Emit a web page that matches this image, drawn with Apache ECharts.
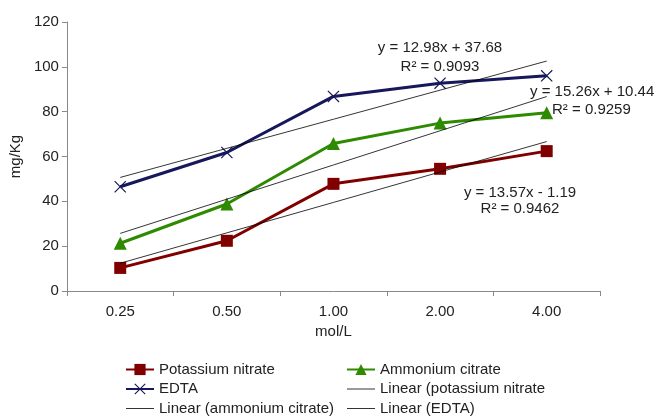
<!DOCTYPE html>
<html><head><meta charset="utf-8">
<script src="https://cdn.jsdelivr.net/npm/echarts@6/dist/echarts.min.js"></script>
<style>html,body{margin:0;padding:0;background:#fff}#c{width:657px;height:416px}</style>
</head><body><div id="c"></div>
<script>
var categories = ['0.25', '0.50', '1.00', '2.00', '4.00'];
var potassiumNitrate = [10.3, 22.4, 47.8, 54.5, 62.4];
var ammoniumCitrate = [21.3, 38.8, 65.8, 74.9, 79.5];
var edta = [46.5, 61.8, 86.8, 92.7, 96.0];
// trend line values (fitted lines)
var linearPotassium = [12.38, 25.95, 39.52, 53.09, 66.66];
var linearAmmonium = [25.70, 40.96, 56.22, 71.48, 86.74];
var linearEdta = [50.66, 63.64, 76.62, 89.60, 102.58];
var yTicks = [0, 20, 40, 60, 80, 100, 120];
var eqEdta = ['y = 12.98x + 37.68', 'R\u00b2 = 0.9093'];
var eqAmmonium = ['y = 15.26x + 10.44', 'R\u00b2 = 0.9259'];
var eqPotassium = ['y = 13.57x - 1.19', 'R\u00b2 = 0.9462'];

var FONT = '"Liberation Sans", Arial, sans-serif';
var TXT = '#222';
var xSym = 'path://M0,0.7 L0.7,0 L5,4.3 L9.3,0 L10,0.7 L5.7,5 L10,9.3 L9.3,10 L5,5.7 L0.7,10 L0,9.3 L4.3,5 Z';

var chart = echarts.init(document.getElementById('c'), null, {renderer: 'canvas'});
function trend(name, data) {
  return {name: name, type: 'line', data: data, symbol: 'none', showSymbol: false,
    lineStyle: {color: '#000', width: 0.8}, itemStyle: {color: '#000'}, z: 5, silent: true, animation: false};
}
function txt(x, y, s, align) {
  return {type: 'text', z: 10, style: {x: x, y: y, text: s, font: '15px ' + FONT, fill: TXT,
    textAlign: align || 'center', textVerticalAlign: 'middle'}};
}
function trendLegend(name) { return {name: name, itemStyle: {opacity: 0}, lineStyle: {width: 0.8, color: '#000'}}; }
var legendCommon = {orient: 'vertical', top: 362, height: 70, padding: 0, itemWidth: 28, itemHeight: 14, itemGap: 4.5,
  textStyle: {fontSize: 15, color: TXT, fontFamily: FONT, lineHeight: 14}};
chart.setOption({
  animation: false,
  textStyle: {fontFamily: FONT},
  grid: {left: 63, right: 57, top: 22, bottom: 125, containLabel: false},
  xAxis: {
    type: 'category', data: categories, boundaryGap: true,
    name: 'mol/L', nameLocation: 'middle', nameGap: 30,
    nameTextStyle: {fontSize: 15, color: TXT, fontFamily: FONT},
    axisLine: {lineStyle: {color: '#888', width: 1}},
    axisTick: {show: true, length: 5, alignWithLabel: false, lineStyle: {color: '#888'}},
    axisLabel: {fontSize: 15, color: TXT, margin: 13, fontFamily: FONT},
    splitLine: {show: false}
  },
  yAxis: {
    type: 'value', min: yTicks[0], max: yTicks[yTicks.length - 1], interval: 20,
    name: 'mg/Kg', nameLocation: 'middle', nameGap: 42, nameRotate: 90,
    nameTextStyle: {fontSize: 15, color: TXT, fontFamily: FONT},
    axisLine: {show: true, lineStyle: {color: '#888', width: 1}},
    axisTick: {show: true, length: 5, lineStyle: {color: '#888'}},
    axisLabel: {fontSize: 15, color: TXT, margin: 8, fontFamily: FONT},
    splitLine: {show: false}
  },
  legend: [
    Object.assign({left: 125, data: ['Potassium nitrate', 'EDTA', trendLegend('Linear (ammonium citrate)')]}, legendCommon),
    Object.assign({left: 346, data: ['Ammonium citrate', trendLegend('Linear (potassium nitrate'), trendLegend('Linear (EDTA)')]}, legendCommon)
  ],
  series: [
    {name: 'Potassium nitrate', type: 'line', data: potassiumNitrate, symbol: 'rect', symbolSize: 12,
     lineStyle: {color: '#800000', width: 3}, itemStyle: {color: '#800000'}, z: 3},
    {name: 'Ammonium citrate', type: 'line', data: ammoniumCitrate, symbol: 'triangle', symbolSize: 13,
     lineStyle: {color: '#2e8a00', width: 3}, itemStyle: {color: '#2e8a00'}, z: 3},
    {name: 'EDTA', type: 'line', data: edta, symbol: xSym, symbolSize: 12,
     lineStyle: {color: '#17175c', width: 3}, itemStyle: {color: '#17175c'}, z: 3},
    trend('Linear (potassium nitrate', linearPotassium),
    trend('Linear (ammonium citrate)', linearAmmonium),
    trend('Linear (EDTA)', linearEdta)
  ],
  graphic: [
    txt(440, 48, eqEdta[0]), txt(440, 67, eqEdta[1]),
    txt(530, 92, eqAmmonium[0], 'left'), txt(552, 110, eqAmmonium[1], 'left'),
    txt(520, 193, eqPotassium[0]), txt(520, 209, eqPotassium[1])
  ]
});
</script></body></html>
